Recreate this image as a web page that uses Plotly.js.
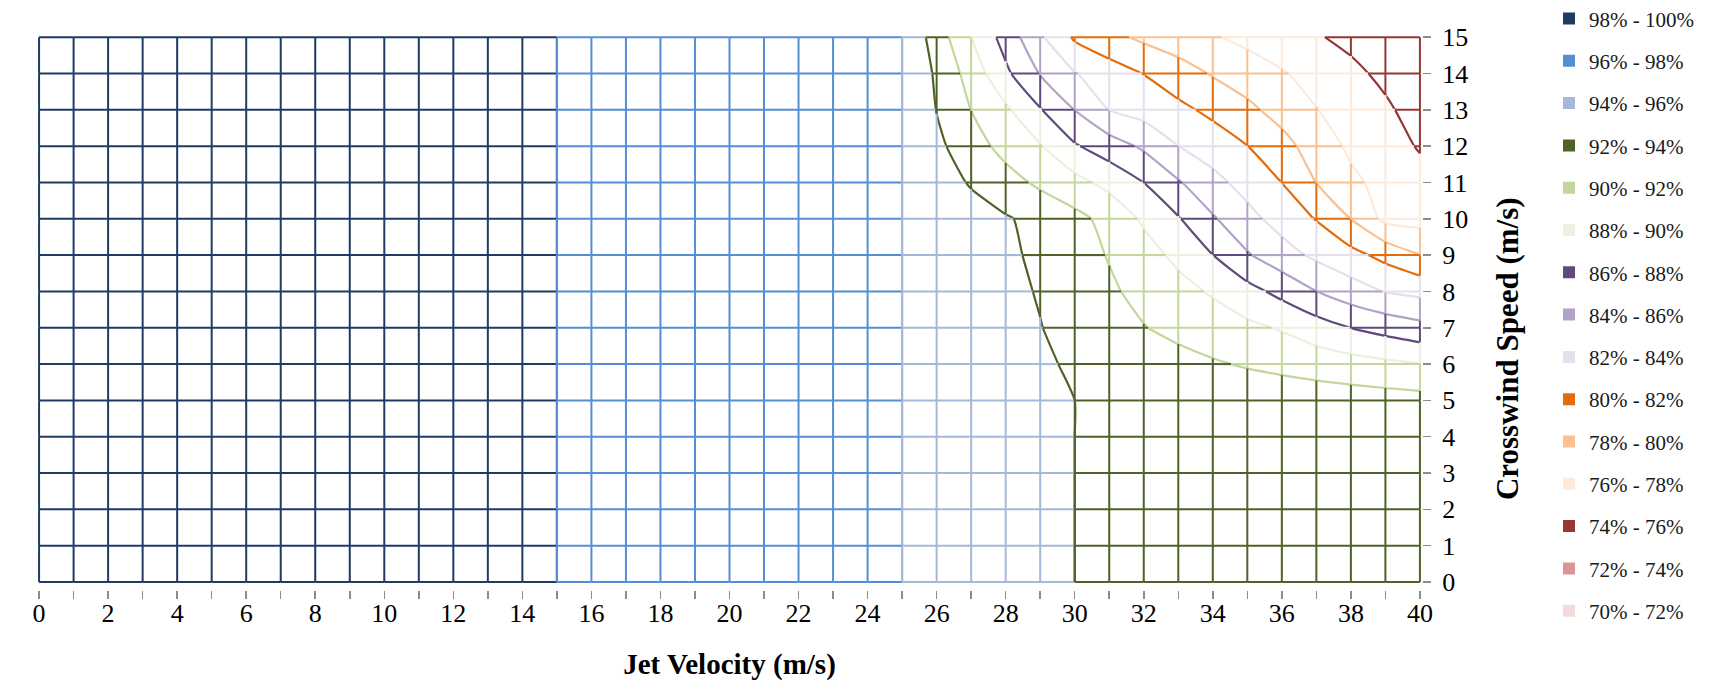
<!DOCTYPE html>
<html>
<head>
<meta charset="utf-8">
<script src="https://cdn.plot.ly/plotly-3.0.1.min.js"></script>
<style>
html,body{margin:0;padding:0;background:#fff;}
#chart{width:1715px;height:687px;}
</style>
</head>
<body>
<div id="chart"></div>
<script>
// ---------------- DATA ----------------
const jetVelocity = [0,1,2,3,4,5,6,7,8,9,10,11,12,13,14,15,16,17,18,19,20,21,22,23,24,25,26,27,28,29,30,31,32,33,34,35,36,37,38,39,40];
const crosswindSpeed = [0,1,2,3,4,5,6,7,8,9,10,11,12,13,14,15];

// efficiency (%) : one row per crosswind speed (0..15), one value per jet velocity (0..40)
const eff_cw0  = [99.9,99.8,99.7,99.6,99.5,99.4,99.3,99.2,99.1,99.0,98.9,98.7,98.6,98.4,98.2,98.0,97.8,97.6,97.4,97.2,97.0,96.8,96.6,96.4,96.2,96.0,95.6,95.2,94.8,94.4,94.0,93.9,93.8,93.7,93.6,93.5,93.4,93.3,93.2,93.1,93.0];
const eff_cw1  = [99.9,99.8,99.7,99.6,99.5,99.4,99.3,99.2,99.1,99.0,98.9,98.7,98.6,98.4,98.2,98.0,97.8,97.6,97.4,97.2,97.0,96.8,96.6,96.4,96.2,96.0,95.6,95.2,94.8,94.4,94.0,93.88,93.77,93.66,93.55,93.44,93.33,93.22,93.11,93.0,92.9];
const eff_cw2  = [99.9,99.8,99.7,99.6,99.5,99.4,99.3,99.2,99.1,99.0,98.9,98.7,98.6,98.4,98.2,98.0,97.8,97.6,97.4,97.2,97.0,96.8,96.6,96.4,96.2,96.0,95.6,95.2,94.8,94.4,94.0,93.87,93.75,93.63,93.51,93.39,93.27,93.15,93.03,92.91,92.8];
const eff_cw3  = [99.9,99.8,99.7,99.6,99.5,99.4,99.3,99.2,99.1,99.0,98.9,98.7,98.6,98.4,98.2,98.0,97.8,97.6,97.4,97.2,97.0,96.8,96.6,96.4,96.2,96.0,95.6,95.2,94.8,94.4,94.0,93.87,93.74,93.62,93.5,93.37,93.25,93.12,93.0,92.87,92.75];
const eff_cw4  = [99.9,99.8,99.7,99.6,99.5,99.4,99.3,99.2,99.1,99.0,98.9,98.7,98.6,98.4,98.2,98.0,97.8,97.6,97.4,97.2,97.0,96.8,96.6,96.4,96.2,96.0,95.6,95.2,94.8,94.4,94.0,93.87,93.74,93.61,93.49,93.36,93.23,93.1,92.98,92.85,92.72];
const eff_cw5  = [99.9,99.8,99.7,99.6,99.5,99.4,99.3,99.2,99.1,99.0,98.9,98.7,98.6,98.4,98.2,98.0,97.8,97.6,97.4,97.2,97.0,96.8,96.6,96.4,96.2,96.0,95.6,95.2,94.8,94.4,94.0,93.87,93.74,93.61,93.48,93.35,93.22,93.09,92.96,92.83,92.7];
const eff_cw6  = [99.9,99.8,99.7,99.6,99.5,99.4,99.3,99.2,99.1,99.0,98.9,98.7,98.6,98.4,98.2,98.0,97.8,97.6,97.4,97.2,97.0,96.8,96.6,96.4,96.2,96.0,95.56,95.11,94.67,94.22,93.8,93.4,93.0,92.6,92.2,91.82,91.47,91.11,90.76,90.4,90.05];
const eff_cw7  = [99.9,99.8,99.7,99.6,99.5,99.4,99.3,99.2,99.1,99.0,98.9,98.7,98.6,98.4,98.2,98.0,97.8,97.6,97.4,97.2,97.0,96.8,96.6,96.4,96.2,96.0,95.51,95.02,94.54,94.05,93.4,92.73,92.07,91.51,90.97,90.43,89.82,88.91,87.98,87.3,86.63];
const eff_cw8  = [99.9,99.8,99.7,99.6,99.5,99.4,99.3,99.2,99.1,99.0,98.9,98.7,98.6,98.4,98.2,98.0,97.8,97.6,97.4,97.2,97.0,96.8,96.6,96.4,96.2,96.0,95.48,94.96,94.44,93.88,93.08,92.28,91.47,90.65,89.78,88.67,87.43,86.02,84.89,83.91,83.48];
const eff_cw9  = [99.9,99.8,99.7,99.6,99.5,99.4,99.3,99.2,99.1,99.0,98.9,98.7,98.6,98.4,98.2,98.0,97.8,97.6,97.4,97.2,97.0,96.8,96.6,96.4,96.2,96.0,95.44,94.89,94.33,93.65,92.78,91.89,90.78,89.54,88.02,86.18,84.8,83.6,82.6,81.43,80.05];
const eff_cw10 = [99.9,99.8,99.7,99.6,99.5,99.4,99.3,99.2,99.1,99.0,98.9,98.7,98.6,98.4,98.2,98.0,97.8,97.6,97.4,97.2,97.0,96.8,96.6,96.4,96.2,96.0,95.39,94.79,94.18,93.4,92.55,91.39,89.69,88.15,86.2,84.62,83.23,81.9,79.98,77.5,77.3];
const eff_cw11 = [99.9,99.8,99.7,99.6,99.5,99.4,99.3,99.2,99.1,99.0,98.9,98.7,98.6,98.4,98.2,98.0,97.8,97.6,97.4,97.2,97.0,96.8,96.6,96.4,96.2,96.0,94.92,93.83,92.72,91.64,90.62,89.43,87.98,86.18,84.62,83.25,81.98,79.98,78.4,77.4,76.6];
const eff_cw12 = [99.9,99.8,99.7,99.6,99.5,99.4,99.3,99.2,99.1,99.0,98.9,98.7,98.6,98.4,98.2,98.0,97.8,97.6,97.4,97.2,97.0,96.8,96.6,96.4,96.2,96.0,94.46,92.83,91.38,90.13,88.2,86.94,85.67,84.02,83.0,82.02,80.67,79.09,77.64,76.76,75.85];
const eff_cw13 = [99.9,99.8,99.7,99.6,99.5,99.4,99.3,99.2,99.1,99.0,98.9,98.7,98.6,98.4,98.2,98.0,97.8,97.6,97.4,97.2,97.0,96.8,96.6,96.4,96.2,96.0,93.95,91.98,90.33,88.12,85.98,83.98,83.23,82.46,81.56,80.44,79.27,78.06,77.16,76.27,75.3];
const eff_cw14 = [99.9,99.8,99.7,99.6,99.5,99.4,99.3,99.2,99.1,99.0,98.9,98.7,98.6,98.4,98.2,98.0,97.8,97.6,97.4,97.2,97.0,96.8,96.6,96.4,96.2,96.0,93.71,91.2,88.4,85.9,84.1,83.0,81.95,80.89,79.83,79.0,78.17,77.29,76.4,75.61,74.9];
const eff_cw15 = [99.9,99.8,99.7,99.6,99.5,99.4,99.3,99.2,99.1,99.0,98.9,98.7,98.6,98.4,98.2,98.0,97.8,97.6,97.4,97.2,97.0,96.8,96.6,96.4,96.2,96.0,93.08,90.0,87.23,84.29,81.71,80.53,79.61,78.89,78.18,77.49,76.81,76.14,75.57,75.04,74.5];

const efficiency = [eff_cw0,eff_cw1,eff_cw2,eff_cw3,eff_cw4,eff_cw5,eff_cw6,eff_cw7,eff_cw8,eff_cw9,eff_cw10,eff_cw11,eff_cw12,eff_cw13,eff_cw14,eff_cw15];

// bands (upper bound inclusive), listed as in the legend
const bandLabels = ['98% - 100%','96% - 98%','94% - 96%','92% - 94%','90% - 92%','88% - 90%','86% - 88%','84% - 86%','82% - 84%','80% - 82%','78% - 80%','76% - 78%','74% - 76%','72% - 74%','70% - 72%'];
const bandUpper  = [100,98,96,94,92,90,88,86,84,82,80,78,76,74,72];

// ---------------- STYLE ----------------
const bandColors = ['#1F3B64','#558ED5','#A4B8DA','#4F6228','#C3D69B','#EBF1DE','#604A7B','#B3A2C7','#E6E0EC','#E46C0A','#FAC090','#FDEADA','#953735','#D99694','#F2DCDB'];
const FONT = '"Liberation Serif", "Times New Roman", Times, serif';

// ---------------- BUILD ----------------
function bandIndex(v){
  const upper = Math.ceil(v/2 - 1e-9)*2;
  let idx = bandUpper.indexOf(upper);
  if (idx < 0) idx = upper > 100 ? 0 : bandUpper.length-1;
  return idx;
}

const segs = bandLabels.map(() => ({x:[], y:[]}));
function addSegment(xa, ya, za, xb, yb, zb){
  const pts = [{t:0}, {t:1}];
  const lo = Math.min(za,zb), hi = Math.max(za,zb);
  for (const L of bandUpper){
    if (L > lo && L < hi) pts.push({t:(L-za)/(zb-za)});
  }
  pts.sort((a,b)=>a.t-b.t);
  for (let i=0;i<pts.length-1;i++){
    const t0 = pts[i].t, t1 = pts[i+1].t;
    if (t1 - t0 < 1e-9) continue;
    const zm = za + (zb-za)*(t0+t1)/2;
    const b = bandIndex(zm);
    segs[b].x.push(xa+(xb-xa)*t0, xa+(xb-xa)*t1, null);
    segs[b].y.push(ya+(yb-ya)*t0, ya+(yb-ya)*t1, null);
  }
}
for (let j=0;j<crosswindSpeed.length;j++){
  for (let i=0;i<jetVelocity.length;i++){
    const z = efficiency[j][i];
    if (i < jetVelocity.length-1) addSegment(jetVelocity[i], crosswindSpeed[j], z, jetVelocity[i+1], crosswindSpeed[j], efficiency[j][i+1]);
    if (j < crosswindSpeed.length-1) addSegment(jetVelocity[i], crosswindSpeed[j], z, jetVelocity[i], crosswindSpeed[j+1], efficiency[j+1][i]);
  }
}

const traces = [];

// contour lines: level L drawn in the colour of band (L-2, L]
const levelStart = 76, levelEnd = 98, levelStep = 2;
const nLev = (levelEnd-levelStart)/levelStep;
const levelScale = [];
for (let k=0;k<=nLev;k++){
  const L = levelStart + k*levelStep;
  levelScale.push([k/nLev, bandColors[bandUpper.indexOf(L)]]);
}
traces.push({
  type:'contour', x: jetVelocity, y: crosswindSpeed, z: efficiency,
  autocontour:false,
  contours:{start:levelStart, end:levelEnd, size:levelStep, coloring:'lines', showlabels:false},
  colorscale: levelScale, showscale:false,
  line:{width:2.2, smoothing:0.6},
  hoverinfo:'skip', showlegend:false
});

// wireframe grid coloured by band
segs.forEach((s, b) => {
  if (!s.x.length) return;
  traces.push({
    type:'scatter', mode:'lines', x:s.x, y:s.y,
    line:{color:bandColors[b], width:2},
    hoverinfo:'skip', showlegend:false
  });
});

// legend swatches
bandLabels.forEach((lab, b) => {
  traces.push({
    type:'bar', x:[null], y:[null], name:lab,
    marker:{color:bandColors[b]},
    legendgroup:'g'+b, showlegend:true, hoverinfo:'skip'
  });
});

const layout = {
  width:1715, height:687,
  margin:{l:37, r:293, t:35, b:97, autoexpand:false},
  paper_bgcolor:'#ffffff', plot_bgcolor:'#ffffff',
  font:{family:FONT, color:'#000'},
  showlegend:true,
  xaxis:{
    range:[-0.06, 40.06], anchor:'free', position:0,
    tickmode:'linear', tick0:0, dtick:2,
    ticks:'outside', ticklen:8, tickwidth:1.5, tickcolor:'#8c8c8c',
    minor:{tick0:0, dtick:1, ticks:'outside', ticklen:8, tickwidth:1.5, tickcolor:'#8c8c8c', showgrid:false},
    ticklabelstandoff:-8,
    showgrid:false, zeroline:false, showline:false,
    tickfont:{family:FONT, size:26, color:'#000'},
    title:{text:'Jet Velocity (m/s)', font:{family:FONT, size:29, color:'#000', weight:'bold'}, standoff:26}
  },
  yaxis:{
    range:[-0.06, 15.06], domain:[0.0105, 1], side:'right', anchor:'x',
    tickmode:'linear', tick0:0, dtick:1,
    ticks:'outside', ticklen:8, tickwidth:1.5, tickcolor:'#8c8c8c',
    ticklabelstandoff:6,
    showgrid:false, zeroline:false, showline:false,
    tickfont:{family:FONT, size:26, color:'#000'}
  },
  legend:{
    x:1.0917, y:1.066, xanchor:'left', yanchor:'top',
    maxheight:700,
    font:{family:FONT, size:21, color:'#1a1a1a'},
    tracegroupgap:12, bgcolor:'rgba(0,0,0,0)', itemclick:false, itemdoubleclick:false
  },
  annotations:[{
    text:'Crosswind Speed (m/s)', xref:'paper', yref:'paper',
    x:1.0614, y:0.4342, xanchor:'center', yanchor:'middle',
    textangle:-90, showarrow:false,
    font:{family:FONT, size:31, color:'#000', weight:'bold'}
  }]
};

Plotly.newPlot('chart', traces, layout, {staticPlot:true, displayModeBar:false});
</script>
</body>
</html>
